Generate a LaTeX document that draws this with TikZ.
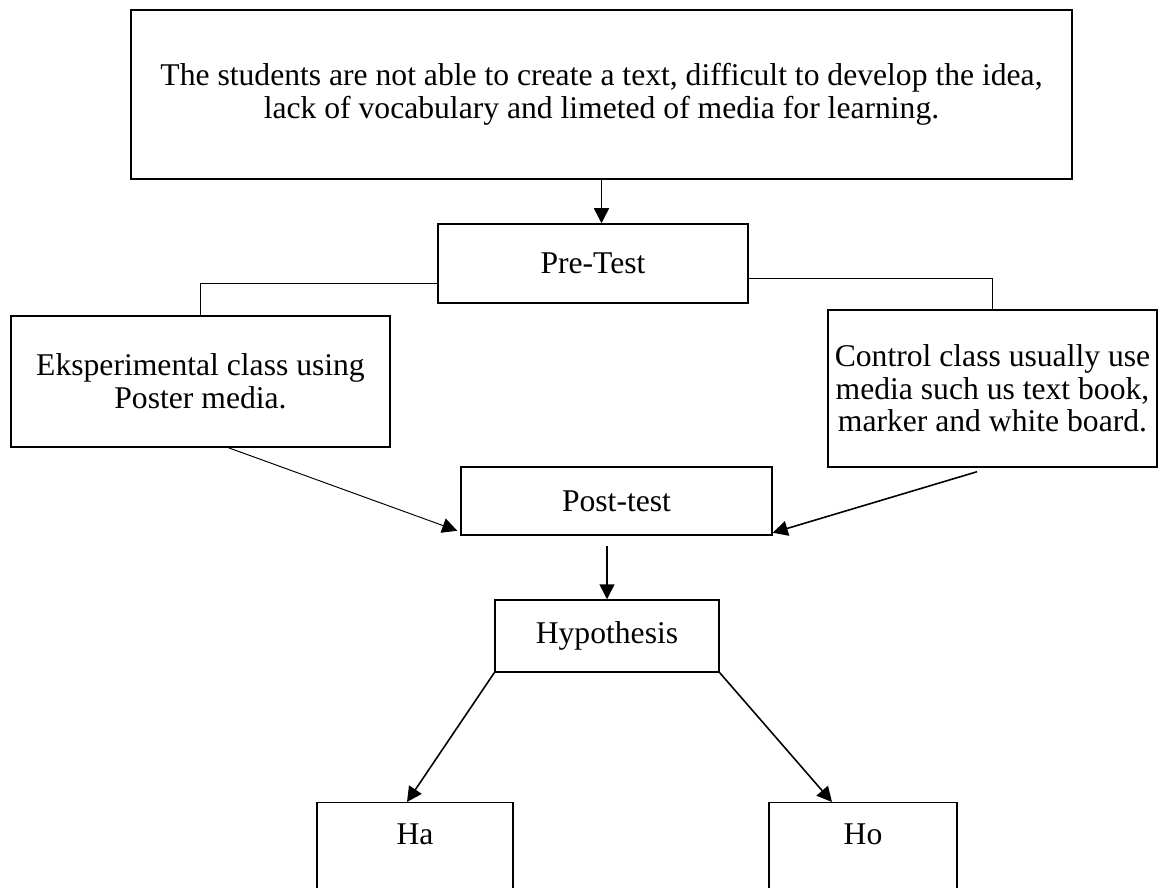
\documentclass[tikz,border=0pt]{standalone}
\usepackage{fontspec}
\setmainfont{Liberation Serif}
\usetikzlibrary{arrows.meta,calc}
\begin{document}
\begin{tikzpicture}[
    box/.style={draw, line width=0.85pt, align=center, inner sep=0pt,
                font=\fontsize{18}{18.5}\selectfont},
    link/.style={line width=0.5pt},
    arr/.style={line width=0.9pt, -{Triangle[width=0.3cm,length=0.3cm]}},
    thinarr/.style={line width=0.55pt, -{Triangle[width=0.3cm,length=0.3cm]}},
    hbox/.style={box, anchor=north, text height=0.5cm, text depth=2cm, inner ysep=0.33cm}
  ]
  \useasboundingbox (0,0) rectangle (23.2,-17.76);
  % boxes
  \node[box, minimum width=18.82cm, minimum height=3.38cm] (problem) at (12.03,-1.89)
    {The students are not able to create a text, difficult to develop the idea,\\
     lack of vocabulary and limeted of media for learning.};
  \node[box, minimum width=6.2cm, minimum height=1.58cm] (pre) at (11.86,-5.27) {Pre-Test};
  \node[box, minimum width=7.58cm, minimum height=2.62cm] (eks) at (4.01,-7.63)
    {Eksperimental class using\\ Poster media.};
  \node[box, minimum width=6.58cm, minimum height=3.14cm] (ctrl) at (19.85,-7.77)
    {Control class usually use\\ media such us text book,\\ marker and white board.};
  \node[box, minimum width=6.22cm, minimum height=1.36cm] (post) at (12.33,-10.02) {Post-test};
  \node[box, minimum width=4.48cm, minimum height=1.44cm] (hyp) at (12.14,-12.72) {Hypothesis};
  \node[hbox, minimum width=3.92cm] (ha) at (8.30,-16.04) {Ha};
  \node[hbox, minimum width=3.76cm] (ho) at (17.26,-16.04) {Ho};
  % connectors
  \draw[arr] (problem.south) -- (problem.south |- pre.north);
  \draw[link] ([yshift=-0.39cm]pre.west) -| (eks.north);
  \draw[link] ([yshift=-0.29cm]pre.east) -| (ctrl.north);
  \draw[thinarr] ([xshift=0.56cm]eks.south) -- ([shift={(-0.06,0.1)}]post.south west);
  \draw[arr] ([shift={(-0.31,-0.08)}]ctrl.south) -- ([yshift=0.06cm]post.south east);
  \draw[arr] ($(hyp.north |- post.south)+(0,-0.2)$) -- (hyp.north);
  \draw[arr] (hyp.south west) -- ([xshift=-0.16cm]ha.north);
  \draw[arr] (hyp.south east) -- ([xshift=-0.62cm]ho.north);
\end{tikzpicture}
\end{document}
